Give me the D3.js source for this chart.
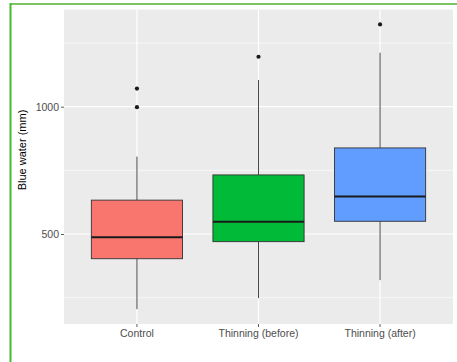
<!DOCTYPE html>
<html>
<head>
<meta charset="utf-8">
<script src="https://cdn.jsdelivr.net/npm/d3@7"></script>
<style>
  html, body { margin: 0; padding: 0; background: #ffffff; }
  svg { display: block; font-family: "Liberation Sans", Arial, Helvetica, sans-serif; }
</style>
</head>
<body>
<svg id="chart" width="457" height="362"></svg>
<script>
// Treatment groups and their box-plot statistics (mm of blue water)
const categories = ["Control", "Thinning (before)", "Thinning (after)"];
const fills = ["#F8766D", "#00BA38", "#619CFF"];
const lowerWhisker = [205, 248, 319];
const q1 = [403, 470, 550];
const median = [487, 548, 647];
const q3 = [633, 732, 838];
const upperWhisker = [804, 1105, 1212];
const outliers = [[998, 1071], [1196], [1323]];
const majorTicks = [500, 1000];
const minorTicks = [250, 750, 1250];
const yTitle = "Blue water (mm)";

const svg = d3.select("#chart");

// Frame lines on the top and left edges
svg.append("line").attr("x1", 10).attr("x2", 457).attr("y1", 4).attr("y2", 4)
  .attr("stroke", "#7CC466").attr("stroke-width", 2);
svg.append("line").attr("x1", 10.5).attr("x2", 10.5).attr("y1", 3).attr("y2", 362)
  .attr("stroke", "#45BB2A").attr("stroke-width", 2);

const panel = { left: 64, right: 453, top: 9.5, bottom: 324 };

const x = d3.scaleBand()
  .domain(categories)
  .range([panel.left, panel.right])
  .paddingInner(0.25)
  .paddingOuter(0.225);

const y = d3.scaleLinear()
  .domain([146.6, 1381.6])
  .range([panel.bottom, panel.top]);

// Panel background
svg.append("rect")
  .attr("x", panel.left).attr("y", panel.top)
  .attr("width", panel.right - panel.left).attr("height", panel.bottom - panel.top)
  .attr("fill", "#EBEBEB");

const grid = svg.append("g");
grid.selectAll(".minor").data(minorTicks).join("line")
  .attr("x1", panel.left).attr("x2", panel.right)
  .attr("y1", d => y(d)).attr("y2", d => y(d))
  .attr("stroke", "#ffffff").attr("stroke-width", 0.6);
grid.selectAll(".major").data(majorTicks).join("line")
  .attr("x1", panel.left).attr("x2", panel.right)
  .attr("y1", d => y(d)).attr("y2", d => y(d))
  .attr("stroke", "#ffffff").attr("stroke-width", 1.2);
grid.selectAll(".vmajor").data(categories).join("line")
  .attr("x1", d => x(d) + x.bandwidth() / 2).attr("x2", d => x(d) + x.bandwidth() / 2)
  .attr("y1", panel.top).attr("y2", panel.bottom)
  .attr("stroke", "#ffffff").attr("stroke-width", 1.2);

// Axes
const yAxis = d3.axisLeft(y).tickValues(majorTicks).tickFormat(d3.format("d"))
  .tickSize(3).tickPadding(2);
const gy = svg.append("g").attr("transform", `translate(${panel.left},0)`).call(yAxis);
gy.select(".domain").remove();
gy.selectAll(".tick line").attr("stroke", "#333333").attr("stroke-width", 0.8);
gy.selectAll(".tick text").attr("fill", "#4D4D4D").attr("font-size", 10.5)
  .attr("font-family", "Liberation Sans, Arial, sans-serif");

const xAxis = d3.axisBottom(x).tickSize(3).tickPadding(3);
const gx = svg.append("g").attr("transform", `translate(0,${panel.bottom})`).call(xAxis);
gx.select(".domain").remove();
gx.selectAll(".tick line").attr("stroke", "#333333").attr("stroke-width", 0.8);
gx.selectAll(".tick text").attr("fill", "#4D4D4D").attr("font-size", 10.5)
  .attr("font-family", "Liberation Sans, Arial, sans-serif");

svg.append("text")
  .attr("transform", "translate(26,150) rotate(-90)")
  .attr("text-anchor", "middle")
  .attr("font-size", 11)
  .attr("fill", "#000000")
  .text(yTitle);

// Boxes
const boxes = svg.append("g").selectAll("g").data(categories).join("g");
boxes.each(function (c, i) {
  const g = d3.select(this);
  const cx = x(c) + x.bandwidth() / 2;
  const x0 = x(c), w = x.bandwidth();
  g.append("line").attr("x1", cx).attr("x2", cx)
    .attr("y1", y(q3[i])).attr("y2", y(upperWhisker[i]))
    .attr("stroke", "#333333").attr("stroke-width", 0.9);
  g.append("line").attr("x1", cx).attr("x2", cx)
    .attr("y1", y(q1[i])).attr("y2", y(lowerWhisker[i]))
    .attr("stroke", "#333333").attr("stroke-width", 0.9);
  g.append("rect")
    .attr("x", x0).attr("width", w)
    .attr("y", y(q3[i])).attr("height", y(q1[i]) - y(q3[i]))
    .attr("fill", fills[i]).attr("stroke", "#333333").attr("stroke-width", 0.9);
  g.append("line").attr("x1", x0).attr("x2", x0 + w)
    .attr("y1", y(median[i])).attr("y2", y(median[i]))
    .attr("stroke", "#1a1a1a").attr("stroke-width", 2);
  g.selectAll("circle").data(outliers[i]).join("circle")
    .attr("cx", cx).attr("cy", d => y(d)).attr("r", 2.1)
    .attr("fill", "#1a1a1a");
});
</script>
</body>
</html>
